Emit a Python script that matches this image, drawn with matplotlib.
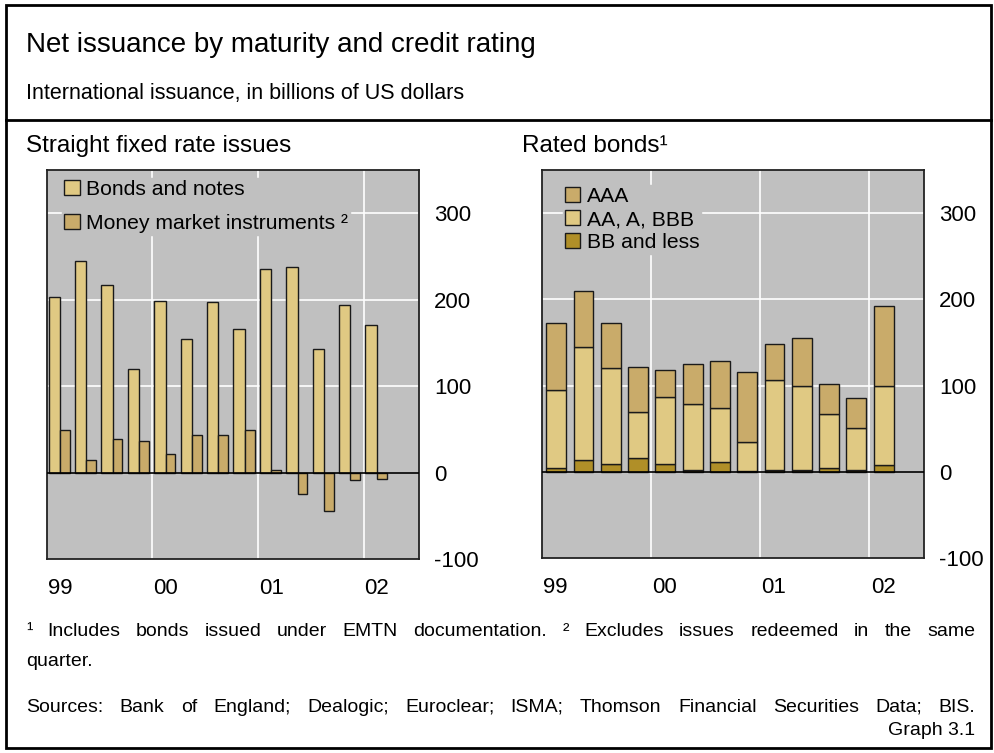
import numpy as np
import matplotlib
matplotlib.use("Agg")
import matplotlib.pyplot as plt
from matplotlib.patches import Rectangle, Patch
from matplotlib.lines import Line2D

plt.rcParams['font.family'] = ['Liberation Sans', 'DejaVu Sans']
plt.rcParams['axes.unicode_minus'] = False

# quarterly data, 1999 Q1 .. 2002 Q1
quarters = ['99Q1', '99Q2', '99Q3', '99Q4', '00Q1', '00Q2', '00Q3', '00Q4',
            '01Q1', '01Q2', '01Q3', '01Q4', '02Q1']
year_labels = ['99', '00', '01', '02']

# straight fixed rate issues
bonds_notes = [203, 245, 217, 120, 198, 155, 197, 166, 236, 238, 143, 194, 171]
money_market = [49, 14, 39, 37, 21, 44, 44, 49, 3, -25, -44, -9, -7]

# rated bonds (stacked: BB and less, AA/A/BBB, AAA)
bb_less = [4.6, 13.5, 9.3, 16, 9.3, 2.3, 11.6, 0.5, 2.3, 2.3, 4.6, 2.3, 7.3]
aa_a_bbb = [90, 131.5, 110.7, 53, 77.7, 76.7, 62.4, 33.5, 103.7, 96.7, 62.4, 48.7, 91.7]
aaa = [78.4, 65, 53, 53, 31, 46, 55, 82, 42, 56, 34.5, 34, 93]

c_light = '#e0c983'
c_mid = '#c9ab6a'
c_dark = '#b08f28'
c_bg = '#c0c0c0'
c_edge = '#1a1a1a'

fig = plt.figure(figsize=(9.95, 7.53), dpi=100)

# outer frame and title separator
fig.patches.append(Rectangle((6 / 995, 5 / 753), 985 / 995, 743 / 753, transform=fig.transFigure,
                             fill=False, edgecolor='black', linewidth=2))
fig.lines.append(Line2D([6 / 995, 991 / 995], [1 - 120 / 753, 1 - 120 / 753],
                        transform=fig.transFigure, color='black', linewidth=2))

fig.text(26 / 995, 1 - 45 / 753, 'Net issuance by maturity and credit rating',
         fontsize=20, va='center', ha='left')
fig.text(26 / 995, 1 - 93 / 753, 'International issuance, in billions of US dollars',
         fontsize=15.5, va='center', ha='left')


def style_axes(ax, xmax):
    ax.set_facecolor(c_bg)
    ax.set_xlim(0, xmax)
    ax.set_ylim(-100, 350)
    ax.set_yticks([-100, 0, 100, 200, 300])
    ax.set_xticks([0.5, 4.5, 8.5, 12.5])
    ax.set_xticklabels(year_labels)
    ax.yaxis.tick_right()
    ax.tick_params(axis='both', length=0, labelsize=16)
    ax.tick_params(axis='y', pad=11)
    ax.tick_params(axis='x', pad=14)
    for v in [100, 200, 300]:
        ax.axhline(v, color='white', linewidth=1.2, zorder=0.5)
    for v in [4, 8, 12]:
        ax.axvline(v, color='white', linewidth=1.2, zorder=0.5)
    ax.axhline(0, color='black', linewidth=1.2, zorder=3)
    for s in ax.spines.values():
        s.set_linewidth(1.3)
        s.set_color('#222222')


x = np.arange(len(quarters))

# left panel
ax1 = fig.add_axes([46.7 / 995, 1 - 559 / 753, 372.3 / 995, 389 / 753])
style_axes(ax1, 14.1)
ax1.bar(x + 0.07, bonds_notes, width=0.43, align='edge', color=c_light,
        edgecolor=c_edge, linewidth=1, zorder=2)
ax1.bar(x + 0.5, money_market, width=0.37, align='edge', color=c_mid,
        edgecolor=c_edge, linewidth=1, zorder=2)
h1 = [Patch(facecolor=c_light, edgecolor=c_edge), Patch(facecolor=c_mid, edgecolor=c_edge)]
leg1 = ax1.legend(h1, ['Bonds and notes', 'Money market instruments \u00b2'],
                  loc='upper left', bbox_to_anchor=(0.042, 0.98), borderaxespad=0,
                  borderpad=0.1, fontsize=15.2, frameon=True, fancybox=False,
                  facecolor=c_bg, edgecolor=c_bg, framealpha=1,
                  handlelength=0.72, handleheight=0.72, handletextpad=0.3,
                  labelspacing=0.72)
leg1.set_zorder(4)
fig.text(26 / 995, 1 - 146 / 753, 'Straight fixed rate issues', fontsize=17.5,
         va='center', ha='left')

# right panel
ax2 = fig.add_axes([542 / 995, 1 - 558 / 753, 382 / 995, 388 / 753])
style_axes(ax2, 14)
ax2.bar(x + 0.52, bb_less, width=0.73, color=c_dark, edgecolor=c_edge, linewidth=1, zorder=2)
ax2.bar(x + 0.52, aa_a_bbb, width=0.73, bottom=bb_less, color=c_light,
        edgecolor=c_edge, linewidth=1, zorder=2)
ax2.bar(x + 0.52, aaa, width=0.73, bottom=np.add(bb_less, aa_a_bbb), color=c_mid,
        edgecolor=c_edge, linewidth=1, zorder=2)
h2 = [Patch(facecolor=c_mid, edgecolor=c_edge), Patch(facecolor=c_light, edgecolor=c_edge),
      Patch(facecolor=c_dark, edgecolor=c_edge)]
leg2 = ax2.legend(h2, ['AAA', 'AA, A, BBB', 'BB and less'],
                  loc='upper left', bbox_to_anchor=(0.055, 0.962), borderaxespad=0,
                  borderpad=0.1, fontsize=15.2, frameon=True, fancybox=False,
                  facecolor=c_bg, edgecolor=c_bg, framealpha=1,
                  handlelength=0.72, handleheight=0.72, handletextpad=0.3,
                  labelspacing=0.2)
leg2.set_zorder(4)
fig.text(522 / 995, 1 - 146 / 753, 'Rated bonds\u00b9', fontsize=17.5,
         va='center', ha='left')

note_size = 14


def justified(words, y, size):
    # spread words evenly between the two text margins
    x0, x1 = 26 / 995, 975 / 995
    renderer = fig.canvas.get_renderer()
    texts = [fig.text(0, y, w, fontsize=size, va='baseline', ha='left') for w in words]
    widths = [t.get_window_extent(renderer).width / 995 for t in texts]
    gap = (x1 - x0 - sum(widths)) / (len(words) - 1)
    pos = x0
    for t, w in zip(texts, widths):
        t.set_x(pos)
        pos += w + gap


justified(['\u00b9', 'Includes', 'bonds', 'issued', 'under', 'EMTN', 'documentation.',
           '\u00b2', 'Excludes', 'issues', 'redeemed', 'in', 'the', 'same'],
          1 - 636 / 753, note_size)
fig.text(26 / 995, 1 - 666 / 753, 'quarter.', fontsize=note_size, va='baseline', ha='left')
justified(['Sources:', 'Bank', 'of', 'England;', 'Dealogic;', 'Euroclear;', 'ISMA;',
           'Thomson', 'Financial', 'Securities', 'Data;', 'BIS.'],
          1 - 712 / 753, note_size)
fig.text(975 / 995, 1 - 735 / 753, 'Graph 3.1', fontsize=note_size, va='baseline', ha='right')

fig.savefig('out.png', dpi=100)
